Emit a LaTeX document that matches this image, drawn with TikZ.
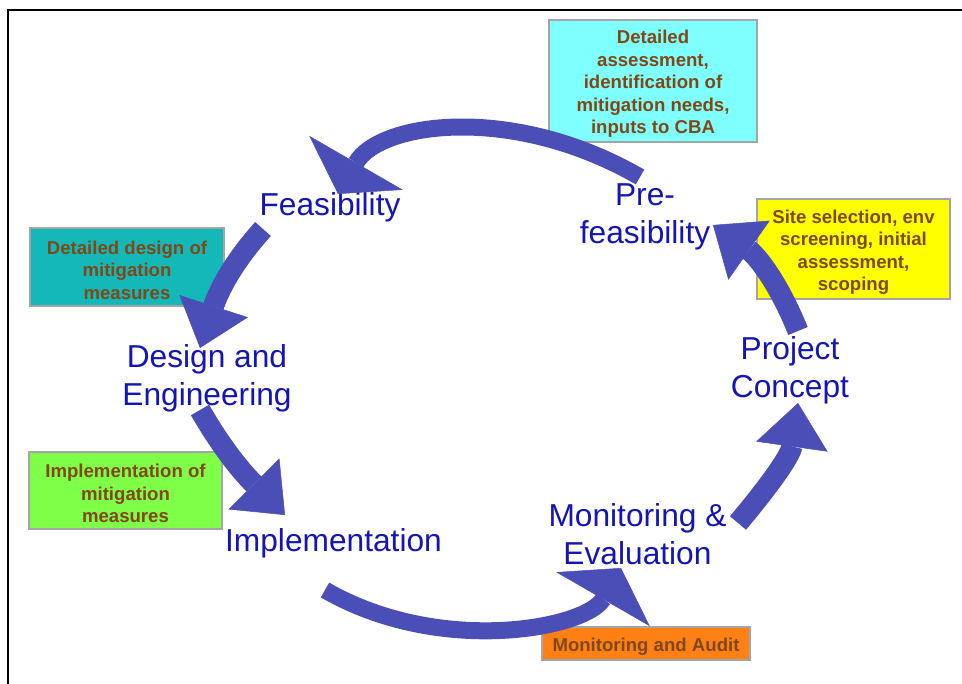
\documentclass[tikz,border=0pt]{standalone}
\usepackage{fontspec}
\setmainfont{Liberation Sans}
\usetikzlibrary{arrows.meta}

\definecolor{cycblue}{RGB}{76,78,184}
\definecolor{stageblue}{RGB}{20,20,185}
\definecolor{notebrown}{RGB}{128,72,22}
\definecolor{notegray}{RGB}{165,165,165}
\definecolor{notecyan}{RGB}{128,255,255}
\definecolor{noteyellow}{RGB}{255,255,0}
\definecolor{noteteal}{RGB}{20,184,184}
\definecolor{notegreen}{RGB}{128,255,72}
\definecolor{noteorange}{RGB}{255,128,20}

\newcommand{\notetop}{\rule{0pt}{19.5pt}}

\begin{document}
\begin{tikzpicture}[x=1pt,y=1pt]
\tikzset{
stage/.style={text=stageblue,align=center,inner sep=0pt,font={\fontsize{31.7pt}{38pt}\selectfont}},
note/.style={draw=notegray,line width=1.2pt,text=notebrown,align=center,inner sep=0pt,font={\bfseries\fontsize{18.6pt}{22.5pt}\selectfont}},
cyc/.style={draw=cycblue,line width=21pt,-{Triangle[width=72pt,length=44pt,line width=0.5pt]}},
cycwide/.style={draw=cycblue,line width=17pt,-{Triangle[width=108pt,length=36pt,line width=0.5pt]}}
}

\useasboundingbox (0,0) rectangle (962,-684);
\draw[line width=2pt] (8,-684) -- (8,-10) -- (962,-10);

% notes
\node[note,fill=notecyan,minimum width=208pt,minimum height=122pt] (CBA) at (653,-81) {\notetop Detailed\\assessment,\\identification of\\mitigation needs,\\inputs to CBA};
\node[note,fill=noteyellow,minimum width=193pt,minimum height=100pt] (SS) at (853.5,-249) {\notetop Site selection, env\\screening, initial\\assessment,\\scoping};
\node[note,fill=noteteal,minimum width=194pt,minimum height=78pt] (DD) at (127,-267) {\notetop Detailed design of\\mitigation\\measures};
\node[note,fill=notegreen,minimum width=193pt,minimum height=77pt] (IM) at (125.5,-490.5) {\notetop Implementation of\\mitigation\\measures};
\node[note,fill=noteorange,minimum width=208pt,minimum height=33pt] (MA) at (646,-643.5) {\notetop Monitoring and Audit};

% stages
\node[stage] (PC) at (790,-370.5) {Project\\Concept};
\node[stage] (PF) at (645,-216.5) {Pre-\\feasibility};
\node[stage] (F) at (330,-207.5) {Feasibility};
\node[stage] (DE) at (207,-378.5) {Design and\\Engineering};
\node[stage] (I) at (333.5,-543.5) {Implementation};
\node[stage] (ME) at (637.5,-534) {Monitoring \&\\Evaluation};

% arrow ends
\coordinate (PFout) at (640,-177);
\coordinate (Fin) at (338,-194);
\coordinate (Fout) at (263,-229);
\coordinate (DEin) at (200,-348);
\coordinate (DEout) at (200,-410);
\coordinate (Iin) at (285,-515);
\coordinate (Iout) at (325,-590);
\coordinate (MEin) at (621,-568);
\coordinate (MEout) at (738,-523);
\coordinate (PCin) at (798,-403);
\coordinate (PCout) at (798,-331);
\coordinate (PFin) at (713,-225);

\path
 (PFout) edge[cycwide,out=150,in=60,out looseness=1.25,in looseness=0.7] (Fin)
 (Fout) edge[cyc,out=228,in=72] (DEin)
 (DEout) edge[cyc,out=300,in=135] (Iin)
 (Iout) edge[cycwide,out=330,in=240,out looseness=1.15,in looseness=0.6] (MEin)
 (MEout) edge[cyc,out=50,in=262] (PCin)
 (PCout) edge[cyc,out=112,in=325] (PFin)
;
\end{tikzpicture}
\end{document}
